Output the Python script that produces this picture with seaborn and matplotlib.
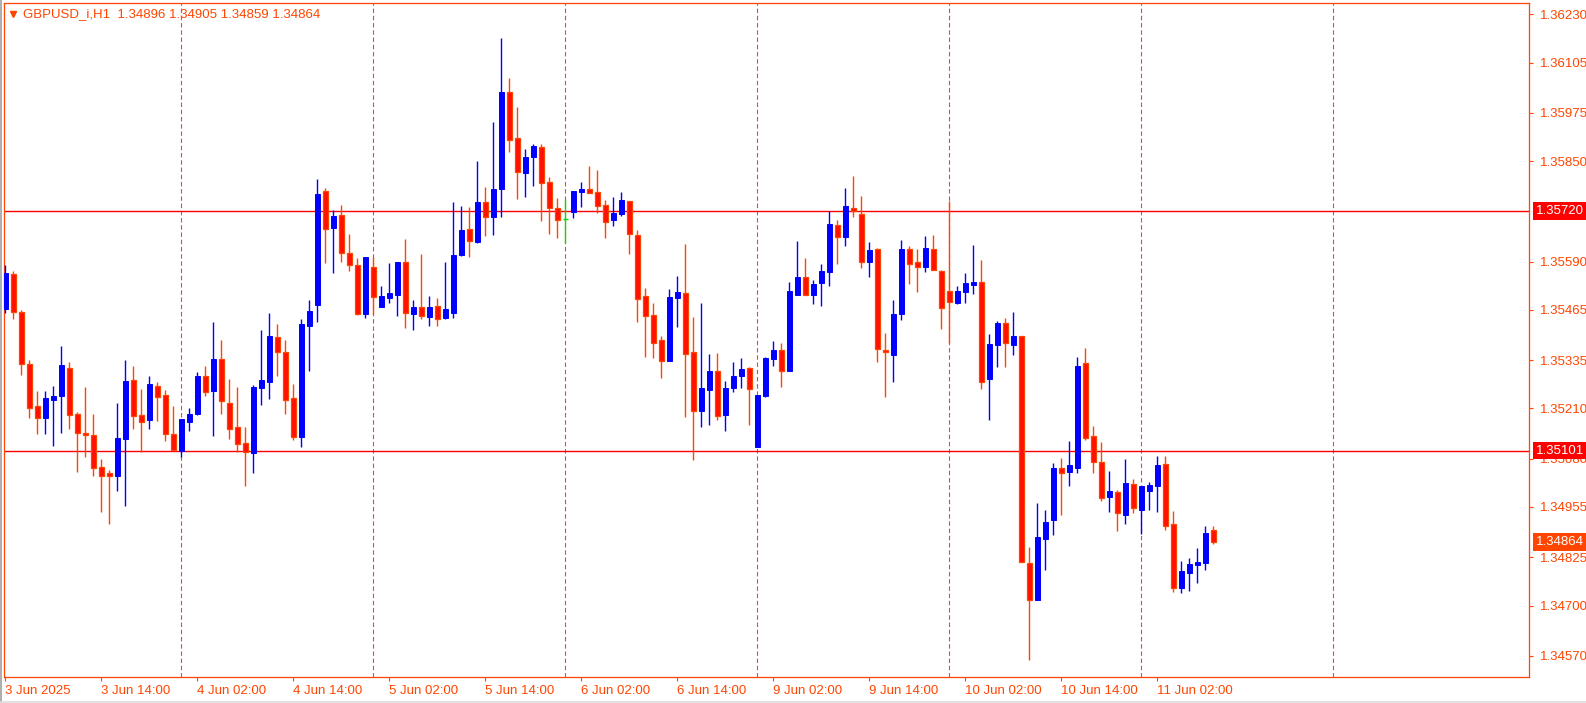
import numpy as np
import pandas as pd
import matplotlib
matplotlib.use('Agg')
import matplotlib.pyplot as plt
import matplotlib.transforms as mtransforms
from matplotlib.lines import Line2D
import seaborn as sns

# GBPUSD_i H1 bars (3 Jun 02:00 .. 11 Jun 09:00)
opens = [1.35468, 1.35558, 1.35460, 1.35326, 1.35216, 1.35184, 1.35233, 1.35243, 1.35315, 1.35196,
         1.35147, 1.35142, 1.35059, 1.35043, 1.35036, 1.35132, 1.35284, 1.35193, 1.35180, 1.35268,
         1.35245, 1.35144, 1.35100, 1.35176, 1.35196, 1.35294, 1.35256, 1.35338, 1.35224, 1.35162,
         1.35121, 1.35094, 1.35263, 1.35279, 1.35395, 1.35355, 1.35237, 1.35137, 1.35422, 1.35478,
         1.35773, 1.35678, 1.35711, 1.35611, 1.35580, 1.35454, 1.35575, 1.35473, 1.35496, 1.35504,
         1.35589, 1.35454, 1.35472, 1.35447, 1.35474, 1.35445, 1.35456, 1.35607, 1.35674, 1.35641,
         1.35744, 1.35706, 1.35778, 1.36029, 1.35910, 1.35820, 1.35861, 1.35886, 1.35796, 1.35728,
         1.35701, 1.35719, 1.35770, 1.35778, 1.35770, 1.35736, 1.35698, 1.35713, 1.35747, 1.35659,
         1.35501, 1.35452, 1.35386, 1.35333, 1.35496, 1.35509, 1.35356, 1.35204, 1.35258, 1.35307,
         1.35193, 1.35263, 1.35294, 1.35315, 1.35111, 1.35243, 1.35339, 1.35361, 1.35308, 1.35504,
         1.35550, 1.35504, 1.35535, 1.35564, 1.35685, 1.35654, 1.35729, 1.35713, 1.35590, 1.35623,
         1.35361, 1.35348, 1.35453, 1.35623, 1.35589, 1.35577, 1.35623, 1.35566, 1.35514, 1.35484,
         1.35512, 1.35529, 1.35537, 1.35285, 1.35375, 1.35431, 1.35375, 1.35398, 1.34810, 1.34715,
         1.34873, 1.34920, 1.35056, 1.35046, 1.35057, 1.35328, 1.35139, 1.35071, 1.34982, 1.34994,
         1.34933, 1.35015, 1.34948, 1.34995, 1.35010, 1.35066, 1.34911, 1.34744, 1.34785, 1.34806,
         1.34811, 1.34896]
highs = [1.35581, 1.35566, 1.35464, 1.35334, 1.35255, 1.35255, 1.35268, 1.35372, 1.35330, 1.35200,
         1.35266, 1.35196, 1.35079, 1.35050, 1.35224, 1.35335, 1.35320, 1.35260, 1.35294, 1.35279,
         1.35258, 1.35215, 1.35183, 1.35211, 1.35303, 1.35321, 1.35434, 1.35387, 1.35286, 1.35266,
         1.35163, 1.35271, 1.35413, 1.35457, 1.35429, 1.35387, 1.35273, 1.35441, 1.35491, 1.35804,
         1.35780, 1.35723, 1.35736, 1.35661, 1.35599, 1.35602, 1.35602, 1.35527, 1.35586, 1.35589,
         1.35648, 1.35491, 1.35610, 1.35501, 1.35496, 1.35589, 1.35744, 1.35734, 1.35731, 1.35850,
         1.35783, 1.35951, 1.36168, 1.36065, 1.35990, 1.35881, 1.35894, 1.35895, 1.35809, 1.35754,
         1.35752, 1.35773, 1.35796, 1.35837, 1.35827, 1.35749, 1.35757, 1.35770, 1.35747, 1.35672,
         1.35522, 1.35483, 1.35398, 1.35519, 1.35553, 1.35636, 1.35447, 1.35483, 1.35351, 1.35354,
         1.35281, 1.35330, 1.35341, 1.35317, 1.35245, 1.35343, 1.35385, 1.35379, 1.35537, 1.35643,
         1.35599, 1.35542, 1.35584, 1.35721, 1.35698, 1.35780, 1.35811, 1.35760, 1.35641, 1.35625,
         1.35405, 1.35491, 1.35646, 1.35630, 1.35623, 1.35656, 1.35659, 1.35568, 1.35747, 1.35527,
         1.35560, 1.35633, 1.35594, 1.35403, 1.35436, 1.35444, 1.35460, 1.35398, 1.34852, 1.34965,
         1.34947, 1.35069, 1.35082, 1.35126, 1.35343, 1.35366, 1.35165, 1.35122, 1.35048, 1.34999,
         1.35079, 1.35028, 1.35009, 1.35020, 1.35087, 1.35087, 1.34945, 1.34815, 1.34823, 1.34849,
         1.34906, 1.34905]
lows = [1.35458, 1.35441, 1.35297, 1.35184, 1.35143, 1.35145, 1.35113, 1.35147, 1.35157, 1.35046,
        1.35083, 1.35034, 1.34943, 1.34912, 1.34997, 1.34958, 1.35157, 1.35096, 1.35157, 1.35178,
        1.35126, 1.35103, 1.35085, 1.35152, 1.35193, 1.35242, 1.35139, 1.35196, 1.35131, 1.35098,
        1.35010, 1.35044, 1.35219, 1.35235, 1.35294, 1.35196, 1.35127, 1.35111, 1.35307, 1.35434,
        1.35586, 1.35560, 1.35589, 1.35566, 1.35452, 1.35444, 1.35454, 1.35472, 1.35483, 1.35449,
        1.35419, 1.35414, 1.35442, 1.35424, 1.35424, 1.35442, 1.35445, 1.35604, 1.35602, 1.35638,
        1.35656, 1.35659, 1.35705, 1.35873, 1.35752, 1.35757, 1.35786, 1.35695, 1.35661, 1.35651,
        1.35639, 1.35703, 1.35731, 1.35768, 1.35716, 1.35651, 1.35682, 1.35708, 1.35610, 1.35434,
        1.35343, 1.35341, 1.35289, 1.35333, 1.35421, 1.35188, 1.35077, 1.35162, 1.35167, 1.35180,
        1.35152, 1.35253, 1.35263, 1.35167, 1.35111, 1.35240, 1.35321, 1.35266, 1.35308, 1.35504,
        1.35504, 1.35480, 1.35475, 1.35527, 1.35584, 1.35630, 1.35705, 1.35573, 1.35550, 1.35330,
        1.35240, 1.35279, 1.35439, 1.35532, 1.35511, 1.35563, 1.35569, 1.35416, 1.35379, 1.35480,
        1.35484, 1.35506, 1.35259, 1.35181, 1.35318, 1.35316, 1.35348, 1.34812, 1.34560, 1.34715,
        1.34793, 1.34883, 1.34933, 1.35009, 1.35044, 1.35129, 1.35044, 1.34971, 1.34943, 1.34894,
        1.34912, 1.34940, 1.34884, 1.34948, 1.34943, 1.34896, 1.34736, 1.34732, 1.34737, 1.34759,
        1.34792, 1.34859]
closes = [1.35560, 1.35460, 1.35326, 1.35212, 1.35184, 1.35237, 1.35242, 1.35322, 1.35194, 1.35147,
          1.35142, 1.35057, 1.35036, 1.35036, 1.35134, 1.35281, 1.35191, 1.35176, 1.35273, 1.35240,
          1.35145, 1.35103, 1.35183, 1.35196, 1.35294, 1.35253, 1.35338, 1.35228, 1.35158, 1.35119,
          1.35097, 1.35265, 1.35284, 1.35398, 1.35357, 1.35233, 1.35137, 1.35429, 1.35462, 1.35765,
          1.35675, 1.35708, 1.35613, 1.35582, 1.35454, 1.35602, 1.35497, 1.35501, 1.35509, 1.35589,
          1.35458, 1.35472, 1.35450, 1.35472, 1.35442, 1.35467, 1.35607, 1.35672, 1.35644, 1.35744,
          1.35706, 1.35778, 1.36029, 1.35905, 1.35822, 1.35861, 1.35889, 1.35794, 1.35729, 1.35698,
          1.35701, 1.35773, 1.35778, 1.35768, 1.35735, 1.35693, 1.35716, 1.35749, 1.35660, 1.35494,
          1.35450, 1.35380, 1.35333, 1.35498, 1.35511, 1.35352, 1.35202, 1.35263, 1.35307, 1.35191,
          1.35263, 1.35294, 1.35312, 1.35259, 1.35245, 1.35341, 1.35361, 1.35308, 1.35514, 1.35550,
          1.35504, 1.35532, 1.35566, 1.35687, 1.35654, 1.35734, 1.35721, 1.35590, 1.35620, 1.35365,
          1.35357, 1.35454, 1.35623, 1.35584, 1.35577, 1.35625, 1.35569, 1.35471, 1.35486, 1.35514,
          1.35535, 1.35537, 1.35279, 1.35377, 1.35431, 1.35378, 1.35398, 1.34812, 1.34715, 1.34877,
          1.34916, 1.35056, 1.35044, 1.35064, 1.35320, 1.35134, 1.35072, 1.34979, 1.34996, 1.34940,
          1.35017, 1.34951, 1.35009, 1.35012, 1.35064, 1.34907, 1.34746, 1.34790, 1.34808, 1.34813,
          1.34888, 1.34864]

# price scale labels and horizontal lines
ytick_vals = [1.36230, 1.36105, 1.35975, 1.35850, 1.35590, 1.35465, 1.35335,
              1.35210, 1.35080, 1.34955, 1.34825, 1.34700, 1.34570]
hline_levels = [1.35720, 1.35101]
last_price = 1.34864
title = 'GBPUSD_i,H1  1.34896 1.34905 1.34859 1.34864'

ORANGE = '#FF4500'
BLUE = '#0000FF'
RED_FILL = '#FF1000'

sns.set_style('white')
plt.rcParams['font.family'] = ['Liberation Sans', 'DejaVu Sans']

# hourly bar times, weekends skipped, plus empty space on the right
times = pd.date_range('2025-06-03 02:00', '2025-06-13 00:00', freq='h')
times = times[times.weekday < 5][:190]
n = len(closes)
x = np.arange(n)

fig = plt.figure(figsize=(15.86, 7.03), dpi=100)
ax = fig.add_axes([4 / 1586, 1 - 677 / 703, 1525 / 1586, 674 / 703])

o = np.array(opens); c = np.array(closes)
h = np.array(highs); l = np.array(lows)
up = c > o
dn = c < o
dj = c == o

# wicks
ax.vlines(x[up], l[up], h[up], color=BLUE, lw=1, zorder=3)
ax.vlines(x[dn], l[dn], h[dn], color=ORANGE, lw=1, zorder=3)
ax.vlines(x[dj], l[dj], h[dj], color='#00E000', lw=1, zorder=3)
# bodies
bw = 0.6
ax.bar(x[up], c[up] - o[up], bottom=o[up], width=bw, color=BLUE,
       edgecolor=BLUE, lw=0.7, zorder=4)
ax.bar(x[dn], o[dn] - c[dn], bottom=c[dn], width=bw, color=RED_FILL,
       edgecolor=ORANGE, lw=0.9, zorder=4)
ax.hlines(o[dj], x[dj] - bw / 2, x[dj] + bw / 2, color='#00E000', lw=1, zorder=4)

# day separators
for i, t in enumerate(times):
    if t.hour == 0:
        ax.axvline(i, color=ORANGE, lw=0.8, ls=(0, (4, 2.5)), zorder=1)

# horizontal levels
for lv in hline_levels:
    ax.axhline(lv, color='#FF0000', lw=1, zorder=2)

ax.set_xlim(-0.16, 190.46)
ax.set_ylim(1.34515, 1.36259)

# x axis labels every 12 bars
xt = list(range(0, n, 12))
xl = []
for i in xt:
    t = times[i]
    xl.append(f'{t.day} {t:%b} {t:%Y}' if i == 0 else f'{t.day} {t:%b %H:%M}')
ax.set_xticks(xt)
ax.set_xticklabels(xl)
for lbl in ax.get_xticklabels():
    lbl.set_horizontalalignment('left')

ax.yaxis.tick_right()
ax.set_yticks(ytick_vals)
ax.set_yticklabels([f'{v:.5f}' for v in ytick_vals])
ax.tick_params(axis='both', colors=ORANGE, labelcolor=ORANGE, labelsize=9.5,
               length=3, width=0.8, direction='out')
ax.tick_params(axis='x', pad=3, bottom=True)
ax.tick_params(axis='y', pad=5, right=True, left=False)
for sp in ax.spines.values():
    sp.set_color(ORANGE)
    sp.set_linewidth(0.9)

# price tags on the scale
trans = mtransforms.blended_transform_factory(ax.transAxes, ax.transData)
for lv in hline_levels:
    ax.text(1.0045, lv, f'{lv:.5f}', transform=trans, ha='left', va='center',
            color='white', fontsize=9.5, clip_on=False, zorder=10,
            bbox=dict(boxstyle='square,pad=0.22', fc='#FF0000', ec='none'))
ax.text(1.0045, last_price, f'{last_price:.5f}', transform=trans, ha='left', va='center',
        color='white', fontsize=9.5, clip_on=False, zorder=10,
        bbox=dict(boxstyle='square,pad=0.22', fc=ORANGE, ec='none'))

# header
ax.plot([0.0059], [0.984], marker='v', ms=5, color=ORANGE, transform=ax.transAxes, clip_on=False)
ax.text(0.0125, 0.984, title, transform=ax.transAxes, ha='left', va='center',
        color=ORANGE, fontsize=9.5)

# window edges
fig.add_artist(Line2D([0.0005, 0.0005], [0, 1], transform=fig.transFigure, color='#a0a0a0', lw=1.2))
fig.add_artist(Line2D([0, 1], [0.002, 0.002], transform=fig.transFigure, color='#dcdcdc', lw=1.2))

fig.savefig('out.png', dpi=100, facecolor='white')
